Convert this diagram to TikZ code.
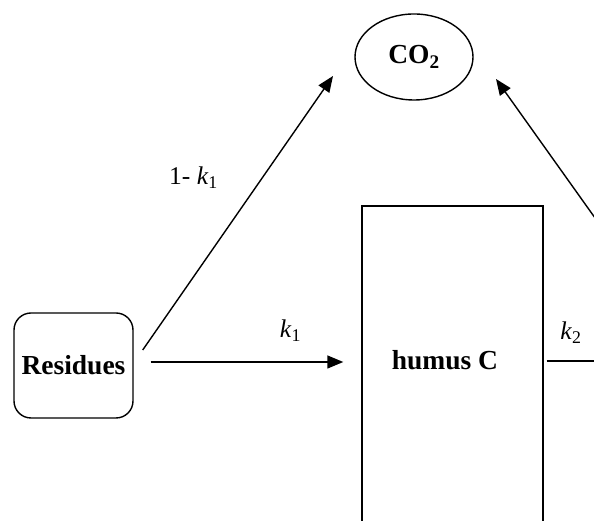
\documentclass[tikz,border=0pt]{standalone}
\usepackage{fontspec}
\setmainfont{Liberation Serif}
\usetikzlibrary{shapes.geometric,arrows.meta}
\begin{document}
\begin{tikzpicture}[x=1bp,y=1bp,
  line width=1.4bp,
  pool/.style={draw, font=\fontsize{27.5bp}{32bp}\selectfont\bfseries, inner sep=0pt},
  lbl/.style={font=\fontsize{25.5bp}{30bp}\selectfont, anchor=base, inner sep=0pt},
  arr/.style={-{Triangle[length=16bp,width=13bp]}}]
\useasboundingbox (0,0) rectangle (594,521);
\clip (0,0) rectangle (594,521);
% nodes
\node[pool, rectangle, rounded corners=17bp, minimum width=119bp, minimum height=105bp] (res) at (73.5,155.5) {Residues};
\node[pool, ellipse, minimum width=118bp, minimum height=86bp] (co2) at (414,464) {CO\textsubscript{2}};
\node[draw, rectangle, minimum width=181bp, minimum height=430bp, inner sep=0pt] (humus) at (452.5,100) {};
\node[pool, draw=none, anchor=base] (humustext) at (445,151) {humus C};
\coordinate (off1) at (620,160);
\coordinate (off2) at (620,268);
% connectors
\draw[arr] ([shift={(9,15.5)}]res.east) -- ([shift={(-81,-19)}]co2.center);
\draw[arr] ([shift={(17,3.5)}]res.east) -- ([shift={(-18,3.5)}]res.east -| humus.west);
\draw ([shift={(3,60)}]humus.east) -- (off1);
\draw[arr] (off2) -- ([shift={(82,-22)}]co2.center);
% labels
\node[lbl] (l1) at (193.5,336) {1- \textit{k}\textsubscript{1}};
\node[lbl] (lk1) at (290.5,183) {\textit{k}\textsubscript{1}};
\node[lbl] (lk2) at (571,181) {\textit{k}\textsubscript{2}};
\end{tikzpicture}
\end{document}
